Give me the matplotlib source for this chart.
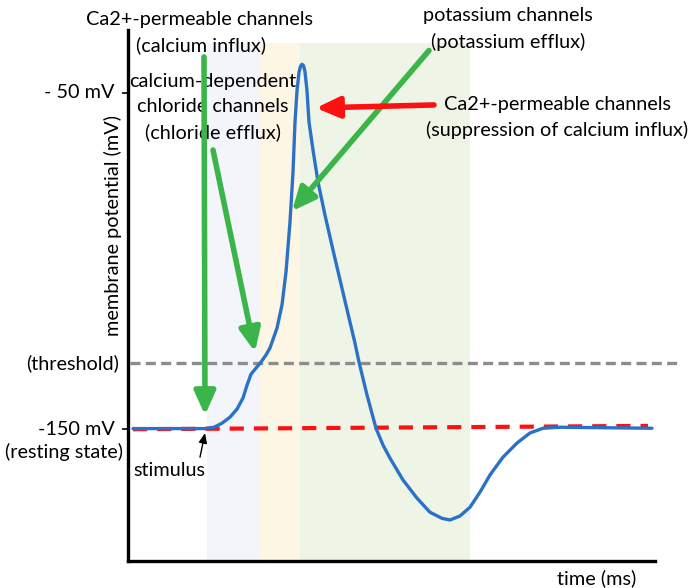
# action potential sketch with ion channel annotations

import numpy as np
import matplotlib.pyplot as plt

plt.rcParams['font.family'] = ['Lato', 'DejaVu Sans']

# membrane potential trace (time in ms, potential in mV)
time_ms = [0.5, 7.7, 8.6, 9.4, 10.2, 10.9, 11.5, 11.9, 12.3, 12.8, 13.3, 13.8,
           14.2, 14.9, 15.4, 15.8, 16.2, 16.5, 16.7, 16.9, 17.1, 17.25, 17.4,
           17.55, 17.7, 17.9, 18.1, 18.5, 19.0, 19.7, 20.5, 21.3, 22.1, 22.7,
           23.1, 23.9, 24.8, 25.5, 26.2, 27.5, 28.9, 30.2, 31.4, 32.2, 33.2,
           34.2, 35.2, 36.2, 37.5, 38.9, 40.2, 41.5, 43.2, 52.4]
potential_mv = [-150.0, -150.0, -149.6, -148.4, -146.6, -144.2, -140.9, -137.1,
                -133.8, -132.0, -130.2, -128.1, -126.0, -120.1, -113.2, -103.4,
                -88.5, -73.7, -58.8, -49.5, -44.0, -42.2, -41.6, -42.0, -43.8,
                -49.5, -58.8, -67.1, -76.6, -86.5, -96.9, -107.0, -117.1,
                -124.6, -130.2, -140.0, -149.9, -154.9, -158.8, -165.3, -170.7,
                -174.9, -176.7, -177.2, -176.0, -173.4, -168.9, -163.8, -158.5,
                -154.3, -151.3, -149.9, -149.6, -149.9]

# reference levels
rest_t = [0.5, 52.0]
rest_mv = [-150.2, -149.2]
threshold_t = [0.2, 55.2]
threshold_mv = -130.5

# shaded channel phases
phase_edges = [7.9, 13.2, 17.2, 34.2]
phase_colors = ['#f3f5fb', '#fdf6e4', '#eef5e7']
phase_top = -35.3

ytick_values = [-50, -150]

green = '#3bb44a'
red = '#ff1010'
blue = '#2b72c6'

fig = plt.figure(figsize=(6.9, 5.88), dpi=100)
ax = fig.add_axes([128 / 690, 27 / 588, 527 / 690, 531 / 588])
ax.set_xlim(0, 52.7)
ax.set_ylim(-189.4, -31.4)

for x0, x1, c in zip(phase_edges[:-1], phase_edges[1:], phase_colors):
    ax.fill_between([x0, x1], -189.4, phase_top, color=c, lw=0, zorder=0)

ax.plot(threshold_t, [threshold_mv, threshold_mv], color='#8c8c8c', lw=2.4,
        dashes=(3.0, 1.6), clip_on=False, zorder=1)
ax.plot(rest_t, rest_mv, color=red, lw=3.0, dashes=(3.4, 2.4), zorder=1)
ax.plot(time_ms, potential_mv, color=blue, lw=2.4, zorder=3,
        solid_joinstyle='round', solid_capstyle='round')

# spines and ticks
for side in ['top', 'right']:
    ax.spines[side].set_visible(False)
for side in ['left', 'bottom']:
    ax.spines[side].set_linewidth(2.4)
ax.set_xticks([])
ax.set_yticks(ytick_values)
ax.set_yticklabels([])
ax.tick_params(axis='y', direction='out', length=4, width=1.2)

fs = 14.3
ls = 1.55
ax.text(-1.3, -50, '- 50 mV', ha='right', va='center', fontsize=fs)
ax.text(-0.9, threshold_mv, '(threshold)', ha='right', va='center', fontsize=fs)
ax.text(-1.3, -150.3, '-150 mV', ha='right', va='center', fontsize=fs)
ax.text(-0.5, -157.0, '(resting state)', ha='right', va='center', fontsize=fs)
ax.text(4.1, -162.4, 'stimulus', ha='center', va='center', fontsize=fs)
ax.text(-1.5, -89.7, 'membrane potential (mV)', rotation=90, ha='center',
        va='center', fontsize=fs)
ax.text(46.9, -194.5, 'time (ms)', ha='center', va='center', fontsize=fs)

ax.text(7.2, -28.4, 'Ca2+-permeable channels', ha='center', va='center', fontsize=fs)
ax.text(7.3, -35.9, '(calcium influx)', ha='center', va='center', fontsize=fs)
ax.text(8.5, -54.3, 'calcium-dependent\nchloride channels\n(chloride efflux)',
        ha='center', va='center', fontsize=fs, linespacing=ls)
ax.text(38.0, -31.1, 'potassium channels\n(potassium efflux)', ha='center',
        va='center', fontsize=fs, linespacing=ls)
ax.text(42.9, -57.4, 'Ca2+-permeable channels\n(suppression of calcium influx)',
        ha='center', va='center', fontsize=fs, linespacing=ls)

# arrows
arrow_kw = dict(arrowstyle='-|>,head_width=0.45,head_length=1.0', lw=4,
                shrinkA=0, shrinkB=0, mutation_scale=14)
ax.annotate('', xy=(7.7, -146.0), xytext=(7.6, -39.4),
            arrowprops=dict(color=green, **arrow_kw), zorder=4)
ax.annotate('', xy=(12.7, -127.2), xytext=(8.5, -67.1),
            arrowprops=dict(color=green, **arrow_kw), zorder=4)
ax.annotate('', xy=(16.4, -85.3), xytext=(30.1, -37.5),
            arrowprops=dict(color=green, **arrow_kw), zorder=4,
            annotation_clip=False)
ax.annotate('', xy=(18.8, -54.6), xytext=(30.6, -53.7),
            arrowprops=dict(color=red, **arrow_kw), zorder=4)
ax.annotate('', xy=(7.7, -151.3), xytext=(7.2, -158.5),
            arrowprops=dict(arrowstyle='-|>,head_width=0.25,head_length=0.6',
                            color='black', lw=1.0, shrinkA=0, shrinkB=0,
                            mutation_scale=10), zorder=4)

fig.savefig('out.png', dpi=100)
